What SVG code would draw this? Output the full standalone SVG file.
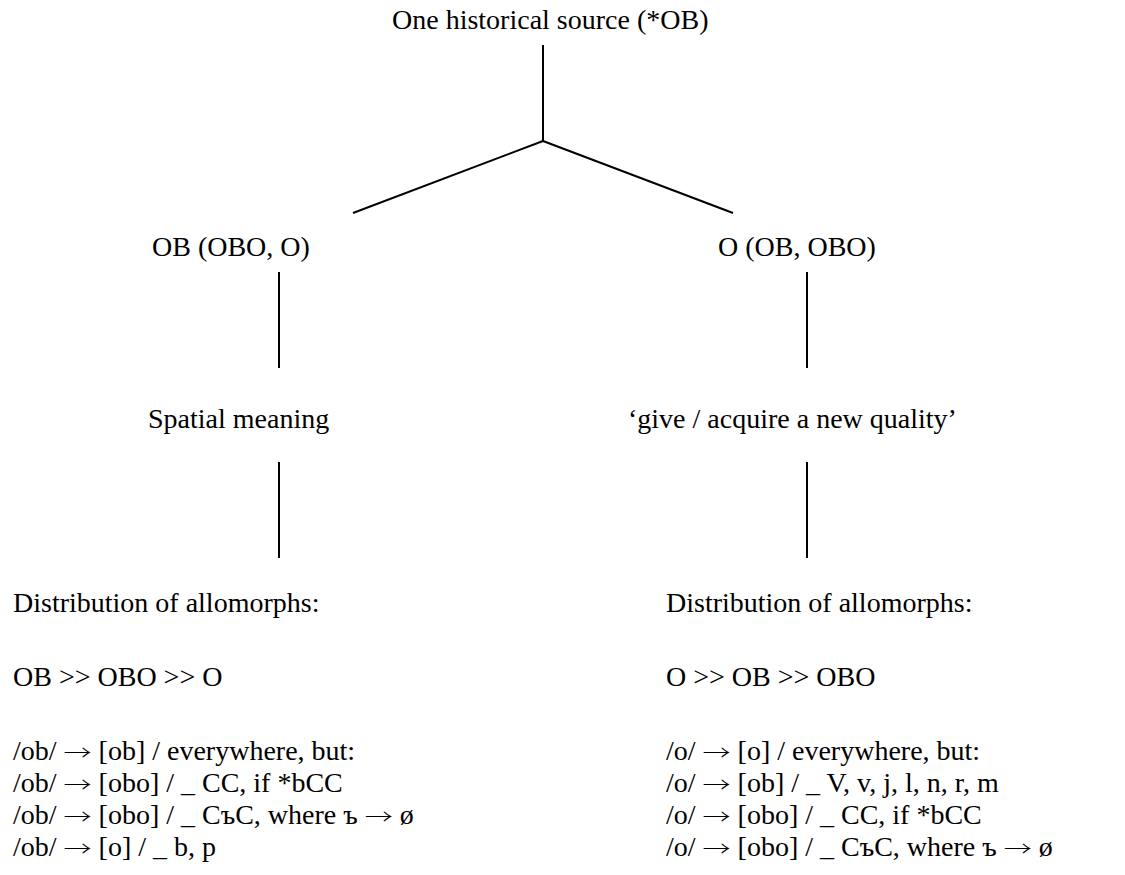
<svg xmlns="http://www.w3.org/2000/svg" width="1125" height="875" viewBox="0 0 1125 875">
  <style>
    text { font-family: "Liberation Serif", "Times New Roman", serif; font-size: 28px; fill: #000; }
    /* long thin rewrite arrow, kept short in height so rows do not collide */
    .arr { font-family: "Noto Sans CJK JP", "Liberation Serif", sans-serif; font-size: 21px; font-weight: 300; }
    .edge { stroke: #000; stroke-width: 2; fill: none; }
  </style>
  <rect width="1125" height="875" fill="#fff"/>

  <g id="connectors">
    <line class="edge" x1="543" y1="45" x2="543" y2="141"/>
    <line class="edge" x1="543" y1="141" x2="353" y2="213"/>
    <line class="edge" x1="543" y1="141" x2="733" y2="213"/>
    <line class="edge" x1="279" y1="272" x2="279" y2="368"/>
    <line class="edge" x1="807" y1="272" x2="807" y2="368"/>
    <line class="edge" x1="279" y1="462" x2="279" y2="558"/>
    <line class="edge" x1="807" y1="462" x2="807" y2="558"/>
  </g>

  <g id="source">
    <text x="392" y="29">One historical source (*OB)</text>
  </g>

  <g id="branch-ob">
    <text x="152" y="256">OB (OBO, O)</text>
  </g>

  <g id="branch-o">
    <text x="718" y="256">O (OB, OBO)</text>
  </g>

  <g id="meaning-spatial">
    <text x="148" y="428">Spatial meaning</text>
  </g>

  <g id="meaning-quality">
    <text x="628" y="428">‘give / acquire a new quality’</text>
  </g>

  <g id="distribution-ob">
    <text x="13" y="612">Distribution of allomorphs:</text>
    <text x="13" y="686">OB &gt;&gt; OBO &gt;&gt; O</text>
    <text x="13" y="760">/ob/ <tspan class="arr" textLength="28" lengthAdjust="spacingAndGlyphs">→</tspan> [ob] / everywhere, but:</text>
    <text x="13" y="792">/ob/ <tspan class="arr" textLength="28" lengthAdjust="spacingAndGlyphs">→</tspan> [obo] / _ CC, if *bCC</text>
    <text x="13" y="824">/ob/ <tspan class="arr" textLength="28" lengthAdjust="spacingAndGlyphs">→</tspan> [obo] / _ CъC, where ъ <tspan class="arr" textLength="28" lengthAdjust="spacingAndGlyphs">→</tspan> ø</text>
    <text x="13" y="856">/ob/ <tspan class="arr" textLength="28" lengthAdjust="spacingAndGlyphs">→</tspan> [o] / _ b, p</text>
  </g>

  <g id="distribution-o">
    <text x="666" y="612">Distribution of allomorphs:</text>
    <text x="666" y="686">O &gt;&gt; OB &gt;&gt; OBO</text>
    <text x="666" y="760">/o/ <tspan class="arr" textLength="28" lengthAdjust="spacingAndGlyphs">→</tspan> [o] / everywhere, but:</text>
    <text x="666" y="792">/o/ <tspan class="arr" textLength="28" lengthAdjust="spacingAndGlyphs">→</tspan> [ob] / _ V, v, j, l, n, r, m</text>
    <text x="666" y="824">/o/ <tspan class="arr" textLength="28" lengthAdjust="spacingAndGlyphs">→</tspan> [obo] / _ CC, if *bCC</text>
    <text x="666" y="856">/o/ <tspan class="arr" textLength="28" lengthAdjust="spacingAndGlyphs">→</tspan> [obo] / _ CъC, where ъ <tspan class="arr" textLength="28" lengthAdjust="spacingAndGlyphs">→</tspan> ø</text>
  </g>
</svg>
